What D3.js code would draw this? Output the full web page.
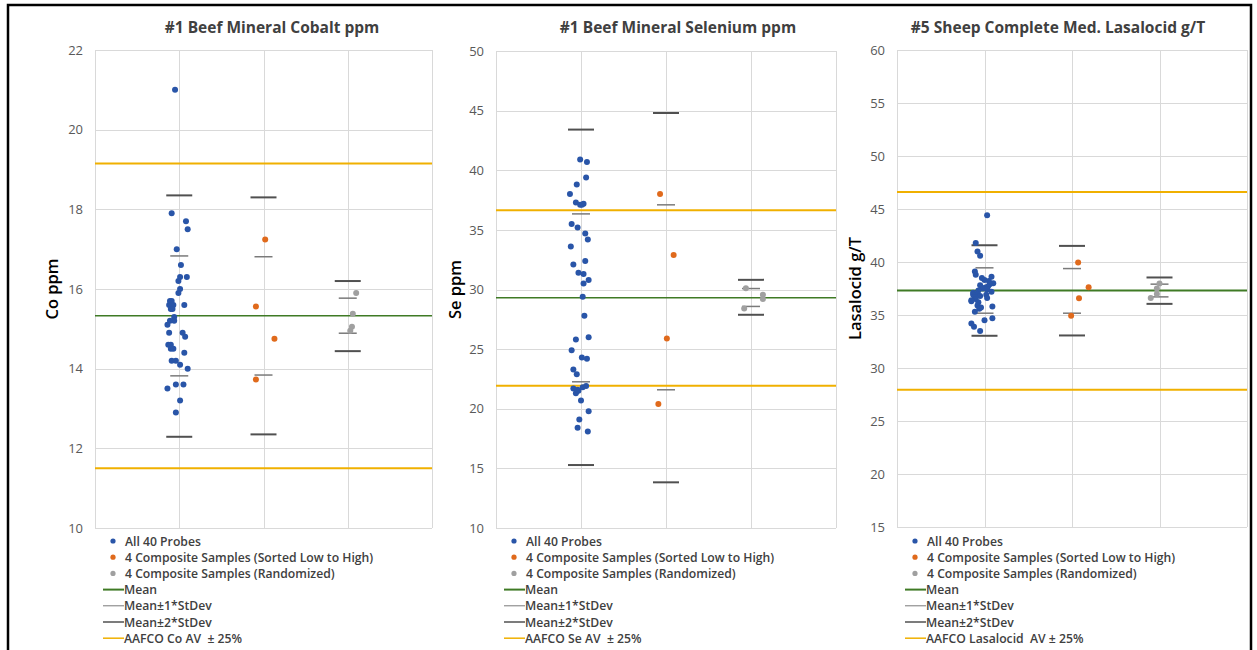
<!DOCTYPE html>
<html>
<head>
<meta charset="utf-8">
<script src="https://cdn.jsdelivr.net/npm/d3@7"></script>
<style>
  body { margin: 0; background: #fff; }
  svg { display: block; }
</style>
</head>
<body>
<svg id="chart" width="1257" height="650"></svg>
<script>
const width = 1257;
const height = 650;

const categories = [1, 2, 3]; // probes, composite sorted, composite randomized
const titles = ["#1 Beef Mineral Cobalt ppm", "#1 Beef Mineral Selenium ppm", "#5 Sheep Complete Med. Lasalocid g/T"];
const yTitles = ["Co ppm", "Se ppm", "Lasalocid g/T"];
const aafcoLabels = ["AAFCO Co AV  \u00b1 25%", "AAFCO Se AV  \u00b1 25%", "AAFCO Lasalocid  AV \u00b1 25%"];
const yDomains = [[10, 22], [10, 50], [15, 60]];
const yTickSteps = [2, 5, 5];

// --- Cobalt ---
const coProbes = [21.0, 17.9, 17.7, 17.5, 17.0, 16.6, 16.3, 16.3, 16.2, 16.0, 15.9, 15.7, 15.7, 15.6, 15.6, 15.5, 15.6, 15.6, 15.5,
  15.3, 15.2, 15.2, 15.1, 14.9, 14.9, 14.8, 14.6, 14.6, 14.5, 14.5, 14.4, 14.2, 14.2, 14.1, 14.0, 13.6, 13.6, 13.5, 13.2, 12.9];
const coProbeJitter = [-0.05, -0.09, 0.08, 0.10, -0.03, 0.02, 0.01, 0.09, -0.01, 0.01, -0.01, -0.11, -0.09, -0.12, -0.07, -0.10, 0.06, -0.09, -0.08,
  -0.06, -0.06, -0.11, -0.14, -0.12, 0.04, 0.07, -0.13, -0.10, -0.10, -0.07, 0.06, -0.09, -0.04, 0.01, 0.10, -0.04, 0.05, -0.14, 0.01, -0.04];
const coSorted = [17.24, 15.56, 14.75, 13.73];
const coSortedJitter = [0.02, -0.09, 0.13, -0.09];
const coRandom = [15.90, 15.38, 15.05, 14.95];
const coRandomJitter = [0.10, 0.06, 0.05, 0.03];
const coMean = 15.33;
const coSd1 = [[13.82, 16.83], [13.84, 16.81], [14.89, 15.77]];
const coSd2 = [[12.29, 18.35], [12.35, 18.30], [14.44, 16.20]];
const coAafco = [11.50, 19.15];

// --- Selenium ---
const seProbes = [40.9, 40.7, 39.4, 38.8, 38.0, 37.3, 37.1, 37.2, 37.1, 35.5, 35.2, 34.7, 34.2, 33.6, 32.4, 32.1, 31.4, 31.3, 30.8, 30.5,
  29.4, 27.8, 26.0, 25.8, 24.9, 24.3, 24.2, 23.3, 22.9, 21.7, 21.3, 21.5, 21.8, 21.9, 21.6, 20.7, 19.8, 19.1, 18.4, 18.1];
const seProbeJitter = [-0.01, 0.07, 0.06, -0.05, -0.13, -0.06, -0.01, 0.03, 0.01, -0.11, -0.04, 0.05, 0.08, -0.12, 0.05, -0.09, -0.03, 0.03, 0.09, 0.03,
  0.02, 0.04, 0.09, -0.06, -0.11, 0.01, 0.07, -0.09, -0.05, -0.09, -0.06, -0.03, 0.02, 0.06, -0.04, 0.00, 0.09, -0.02, -0.04, 0.08];
const seSorted = [38.0, 32.9, 25.9, 20.4];
const seSortedJitter = [-0.07, 0.09, 0.01, -0.09];
const seRandom = [30.1, 29.55, 29.2, 28.4];
const seRandomJitter = [-0.06, 0.14, 0.14, -0.08];
const seMean = 29.30;
const seSd1 = [[22.26, 36.34], [21.59, 37.10], [28.58, 30.08]];
const seSd2 = [[15.28, 43.41], [13.83, 44.80], [27.88, 30.81]];
const seAafco = [21.93, 36.65];

// --- Lasalocid ---
const laProbes = [44.4, 41.8, 41.0, 40.6, 39.1, 38.8, 38.6, 38.5, 38.3, 38.2, 38.0, 37.9, 37.8, 37.7, 37.6, 37.5, 37.4, 37.3, 37.2, 37.1,
  37.0, 36.9, 36.9, 36.8, 36.7, 36.6, 36.5, 36.4, 36.3, 36.2, 35.9, 35.8, 35.7, 35.6, 35.3, 34.7, 34.5, 34.2, 33.9, 33.5];
const laProbeJitter = [0.03, -0.10, -0.08, -0.05, -0.11, -0.10, 0.08, -0.03, 0.00, 0.05, 0.10, 0.06, -0.05, 0.04, 0.01, -0.02, 0.03, -0.07, 0.08, -0.13,
  -0.08, -0.13, 0.02, -0.05, -0.11, 0.03, -0.10, -0.15, -0.15, -0.07, -0.08, 0.09, -0.04, -0.06, -0.11, 0.09, 0.00, -0.15, -0.12, -0.05];
const laSorted = [39.95, 37.62, 36.59, 34.92];
const laSortedJitter = [0.07, 0.19, 0.08, -0.01];
const laRandom = [37.97, 37.5, 36.99, 36.6];
const laRandomJitter = [0.00, -0.03, -0.03, -0.10];
const laMean = 37.31;
const laSd1 = [[35.17, 39.45], [35.17, 39.38], [36.71, 37.91]];
const laSd2 = [[33.04, 41.58], [33.07, 41.52], [36.05, 38.54]];
const laAafco = [27.94, 46.61];

const colors = {
  probe: "#2955a8",
  sorted: "#e06a1c",
  random: "#a0a0a0",
  mean: "#3f7a25",
  sd1: "#7a7a7a",
  sd2: "#505050",
  aafco: "#f0b000",
  grid: "#d9d9d9",
  text: "#595959",
  title: "#404040"
};

const panels = [
  { box: [95, 432, 50, 528], titleX: 272, yLabelX: 58,
    probes: coProbes, probeJitter: coProbeJitter, sorted: coSorted, sortedJitter: coSortedJitter,
    random: coRandom, randomJitter: coRandomJitter, mean: coMean, sd1: coSd1, sd2: coSd2, aafco: coAafco },
  { box: [496, 836, 51, 528], titleX: 678, yLabelX: 461,
    probes: seProbes, probeJitter: seProbeJitter, sorted: seSorted, sortedJitter: seSortedJitter,
    random: seRandom, randomJitter: seRandomJitter, mean: seMean, sd1: seSd1, sd2: seSd2, aafco: seAafco },
  { box: [897, 1247, 50, 527], titleX: 1058, yLabelX: 861,
    probes: laProbes, probeJitter: laProbeJitter, sorted: laSorted, sortedJitter: laSortedJitter,
    random: laRandom, randomJitter: laRandomJitter, mean: laMean, sd1: laSd1, sd2: laSd2, aafco: laAafco }
];

const svg = d3.select("#chart")
    .attr("viewBox", [0, 0, width, height])
    .style("font-family", "'Open Sans', 'Noto Sans', sans-serif");

// outer frame
svg.append("rect")
    .attr("x", 8).attr("y", 5)
    .attr("width", 1243).attr("height", 700)
    .attr("fill", "none")
    .attr("stroke", "#000")
    .attr("stroke-width", 2.5);

panels.forEach((p, i) => drawPanel(p, i));

function drawPanel(p, i) {
  const [left, right, top, bottom] = p.box;
  const x = d3.scaleLinear().domain([0, 4]).range([left, right]);
  const y = d3.scaleLinear().domain(yDomains[i]).range([bottom, top]);
  const g = svg.append("g");

  const yTicks = d3.range(yDomains[i][0], yDomains[i][1] + 0.001, yTickSteps[i]);

  // gridlines
  g.append("g")
    .selectAll("line")
    .data(yTicks)
    .join("line")
      .attr("x1", left).attr("x2", right)
      .attr("y1", d => Math.round(y(d)) + 0.5).attr("y2", d => Math.round(y(d)) + 0.5)
      .attr("stroke", colors.grid).attr("stroke-width", 1);

  g.append("g")
    .selectAll("line")
    .data(d3.range(0, 5))
    .join("line")
      .attr("x1", d => Math.round(x(d)) + 0.5).attr("x2", d => Math.round(x(d)) + 0.5)
      .attr("y1", top).attr("y2", bottom)
      .attr("stroke", colors.grid).attr("stroke-width", 1);

  // y axis labels
  const yAxis = d3.axisLeft(y).tickValues(yTicks).tickSize(0).tickPadding(12);
  g.append("g")
      .attr("transform", `translate(${left},0)`)
      .call(yAxis)
      .call(a => a.select(".domain").remove())
      .call(a => a.selectAll("text")
        .attr("fill", colors.text)
        .style("font-size", "13px")
        .style("font-family", "'Open Sans', sans-serif"));

  // AAFCO lines
  g.append("g")
    .selectAll("line")
    .data(p.aafco)
    .join("line")
      .attr("x1", left).attr("x2", right)
      .attr("y1", d => y(d)).attr("y2", d => y(d))
      .attr("stroke", colors.aafco).attr("stroke-width", 2);

  // mean line
  g.append("line")
      .attr("x1", left).attr("x2", right)
      .attr("y1", y(p.mean)).attr("y2", y(p.mean))
      .attr("stroke", colors.mean).attr("stroke-width", i === 2 ? 2 : 1.5);

  // stdev dashes
  const sdHalf2 = 13, sdHalf1 = 9;
  categories.forEach((c, k) => {
    p.sd2[k].forEach(v => {
      g.append("line")
          .attr("x1", x(c) - sdHalf2).attr("x2", x(c) + sdHalf2)
          .attr("y1", y(v)).attr("y2", y(v))
          .attr("stroke", colors.sd2).attr("stroke-width", 2);
    });
    p.sd1[k].forEach(v => {
      g.append("line")
          .attr("x1", x(c) - sdHalf1).attr("x2", x(c) + sdHalf1)
          .attr("y1", y(v)).attr("y2", y(v))
          .attr("stroke", colors.sd1).attr("stroke-width", 1.5);
    });
  });

  // points
  const series = [
    { vals: p.probes, jit: p.probeJitter, cat: categories[0], color: colors.probe },
    { vals: p.sorted, jit: p.sortedJitter, cat: categories[1], color: colors.sorted },
    { vals: p.random, jit: p.randomJitter, cat: categories[2], color: colors.random }
  ];
  series.forEach(s => {
    g.append("g")
      .selectAll("circle")
      .data(s.vals)
      .join("circle")
        .attr("cx", (d, j) => x(s.cat + s.jit[j]))
        .attr("cy", d => y(d))
        .attr("r", 3)
        .attr("fill", s.color);
  });

  // title
  svg.append("text")
      .attr("x", p.titleX).attr("y", 33)
      .attr("text-anchor", "middle")
      .attr("fill", colors.title)
      .style("font-size", "15.5px")
      .style("font-weight", 700)
      .text(titles[i]);

  // y title
  svg.append("text")
      .attr("transform", `translate(${p.yLabelX},${(top + bottom) / 2}) rotate(-90)`)
      .attr("text-anchor", "middle")
      .attr("fill", "#000")
      .style("font-size", "16.5px")
      .style("font-weight", 600)
      .text(yTitles[i]);

  // legend
  const legendItems = [
    { label: "All 40 Probes", type: "dot", color: colors.probe },
    { label: "4 Composite Samples (Sorted Low to High)", type: "dot", color: colors.sorted },
    { label: "4 Composite Samples (Randomized)", type: "dot", color: colors.random },
    { label: "Mean", type: "line", color: colors.mean, w: 2 },
    { label: "Mean\u00b11*StDev", type: "line", color: colors.sd1, w: 1 },
    { label: "Mean\u00b12*StDev", type: "line", color: colors.sd2, w: 1.5 },
    { label: aafcoLabels[i], type: "line", color: colors.aafco, w: 1.5 }
  ];
  const lg = svg.append("g");
  const row = lg.selectAll("g")
    .data(legendItems)
    .join("g")
      .attr("transform", (d, j) => `translate(${left},${541 + j * 16.2})`);

  row.filter(d => d.type === "dot").append("circle")
      .attr("cx", 18).attr("cy", 0).attr("r", 2.6)
      .attr("fill", d => d.color);
  row.filter(d => d.type === "line").append("line")
      .attr("x1", 8).attr("x2", 29)
      .attr("y1", 0).attr("y2", 0)
      .attr("stroke", d => d.color)
      .attr("stroke-width", d => d.w);
  row.append("text")
      .attr("x", d => d.type === "dot" ? 30 : 29)
      .attr("y", 4.5)
      .attr("fill", colors.title)
      .style("font-size", "12.2px")
      .style("font-weight", 600)
      .style("white-space", "pre")
      .text(d => d.label);
}
</script>
</body>
</html>
